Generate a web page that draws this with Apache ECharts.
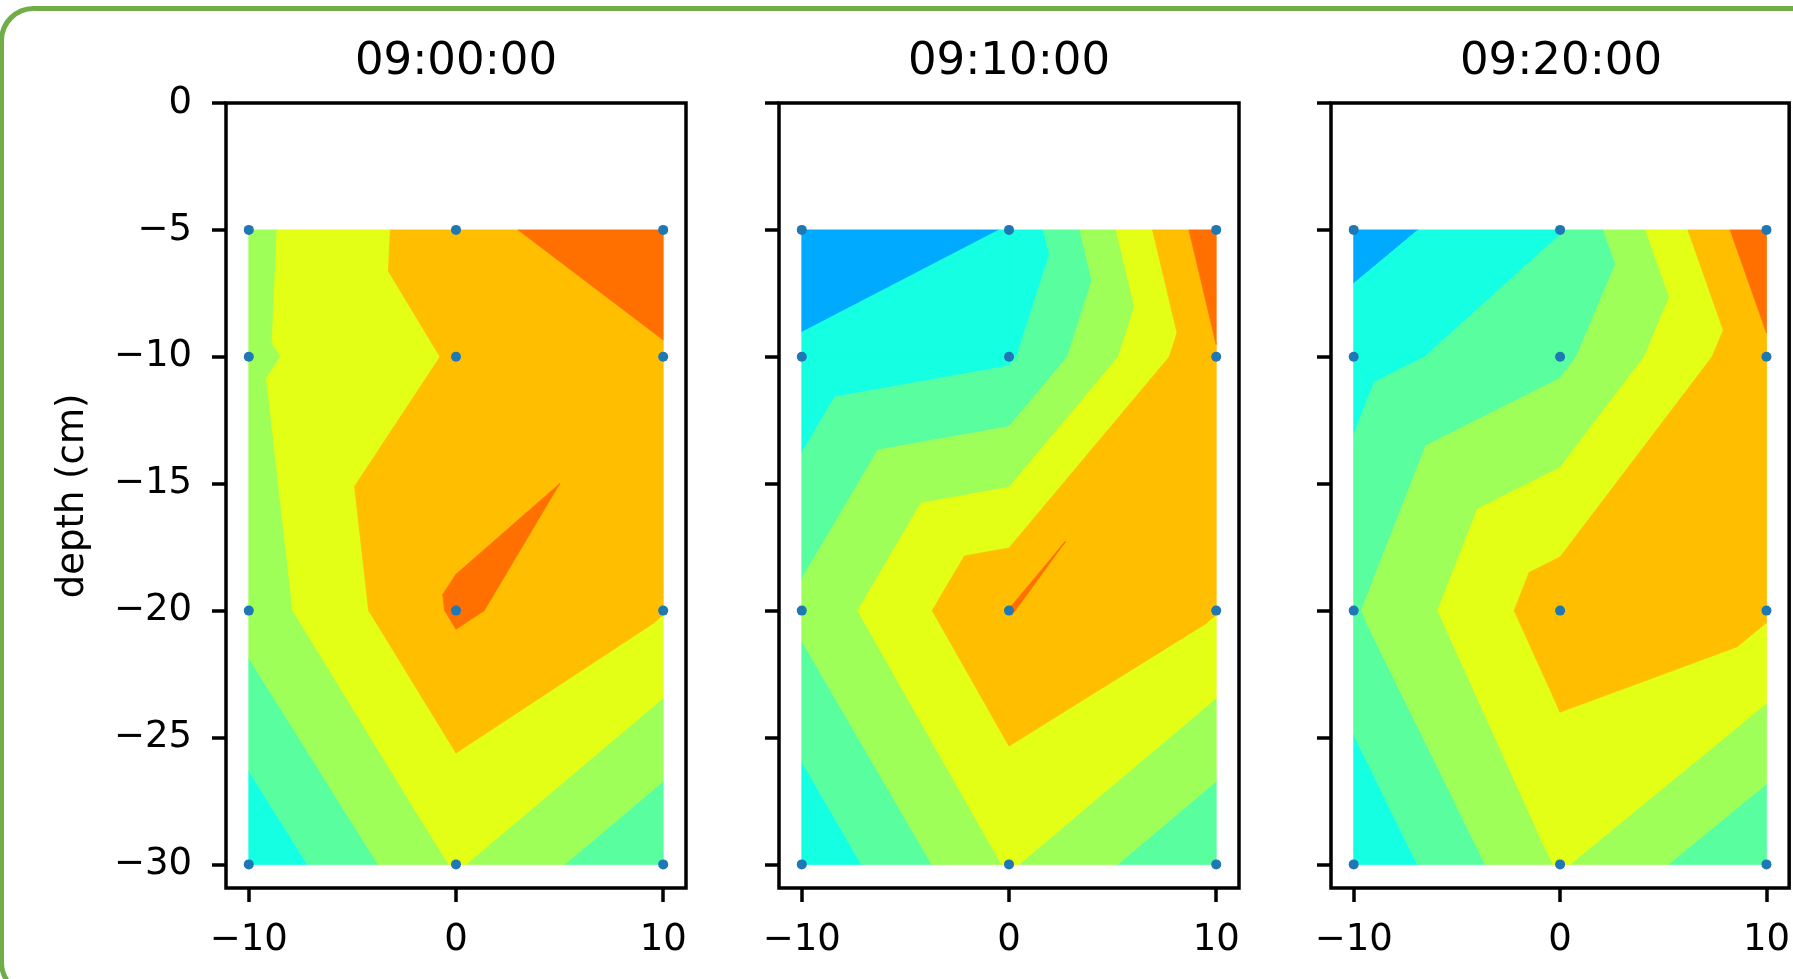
<!DOCTYPE html>
<html>
<head>
<meta charset="utf-8">
<title>depth profiles</title>
<script src="https://cdn.jsdelivr.net/npm/echarts@6/dist/echarts.min.js"></script>
<style>
html, body { margin: 0; padding: 0; background: #fff; }
#main { width: 1793px; height: 979px; }
</style>
</head>
<body>
<div id="main"></div>
<script>
// sensor positions
const xPos = [-10, 0, 10];
const depths = [-5, -10, -20, -30];
const times = ['09:00:00', '09:10:00', '09:20:00'];

// readings per depth row (left, centre, right), in contour-level units
const values0900 = [
    [6.75, 8.58, 9.98],
    [6.80, 8.10, 8.85],
    [6.42, 9.15, 8.05],
    [4.17, 7.10, 5.00]
];
const values0910 = [
    [3.00, 4.05, 9.75],
    [4.24, 4.85, 8.92],
    [6.25, 9.03, 8.05],
    [4.15, 7.10, 5.00]
];
const values0920 = [
    [3.56, 4.97, 9.86],
    [4.60, 5.76, 8.80],
    [5.90, 8.60, 8.15],
    [4.06, 7.10, 5.00]
];
const panelValues = [values0900, values0910, values0920];

// triangulation of each cell: 'main' joins top-left/bottom-right, 'anti' the other pair
const cellDiagonal = [
    ['anti', 'main'],
    ['main', 'anti'],
    ['main', 'anti']
];

// contour levels (band k = levels[k] .. levels[k+1]) and jet colours
const levels = [0, 1, 2, 3, 4, 5, 6, 7, 8, 9, 10, 11, 12];
const levelColors = ['#0000b0', '#0000ff', '#0055ff', '#00aaff', '#15ffe2', '#59ff9e',
    '#9eff59', '#e2ff15', '#ffbe00', '#ff7000', '#ff2100', '#b00000'];

const xTicks = [-10, 0, 10];
const yTicks = [0, -5, -10, -15, -20, -25, -30];

const gridLeft = [226, 779, 1331];
const font = '"DejaVu Sans"';

function fmt(v) {
    return v < 0 ? '\u2212' + (-v) : String(v);
}

// keep the part of a polygon on one side of a level (above=true: value >= level)
function clip(poly, level, above) {
    const out = [];
    for (let i = 0; i < poly.length; i++) {
        const a = poly[i], b = poly[(i + 1) % poly.length];
        const ina = above ? a[2] >= level : a[2] < level;
        const inb = above ? b[2] >= level : b[2] < level;
        if (ina) out.push(a);
        if (ina !== inb) {
            const t = (level - a[2]) / (b[2] - a[2]);
            out.push([a[0] + t * (b[0] - a[0]), a[1] + t * (b[1] - a[1]), level]);
        }
    }
    return out;
}

// filled contours over the triangulated sensor grid (linear in each triangle)
function contourItem(vals) {
    return function (params, api) {
        if (params.dataIndex !== 0) return null;
        const tris = [];
        for (let r = 0; r < depths.length - 1; r++) {
            for (let c = 0; c < xPos.length - 1; c++) {
                const a = [xPos[c], depths[r], vals[r][c]];
                const b = [xPos[c + 1], depths[r], vals[r][c + 1]];
                const cc = [xPos[c], depths[r + 1], vals[r + 1][c]];
                const d = [xPos[c + 1], depths[r + 1], vals[r + 1][c + 1]];
                if (cellDiagonal[r][c] === 'main') tris.push([a, b, d], [a, d, cc]);
                else tris.push([a, b, cc], [b, d, cc]);
            }
        }
        const children = [];
        for (let k = 0; k < levelColors.length; k++) {
            let path = '';
            for (const tri of tris) {
                let poly = clip(tri, levels[k], true);
                if (poly.length < 3) continue;
                poly = clip(poly, levels[k + 1], false);
                if (poly.length < 3) continue;
                poly.forEach((p, idx) => {
                    const q = api.coord([p[0], p[1]]);
                    path += (idx ? 'L' : 'M') + q[0].toFixed(2) + ' ' + q[1].toFixed(2);
                });
                path += 'Z';
            }
            if (path) {
                children.push({
                    type: 'path',
                    shape: { pathData: path },
                    style: { fill: levelColors[k], stroke: levelColors[k], lineWidth: 0.8, lineJoin: 'round' }
                });
            }
        }
        return { type: 'group', children: children };
    };
}

function points(vals) {
    const pts = [];
    depths.forEach((y, r) => xPos.forEach((x, c) => pts.push([x, y, vals[r][c]])));
    return pts;
}

const myChart = echarts.init(document.getElementById('main'));

const series = [];
panelValues.forEach((vals, i) => {
    series.push({
        type: 'custom',
        xAxisIndex: i,
        yAxisIndex: i,
        data: points(vals),
        renderItem: contourItem(vals),
        silent: true,
        z: 1
    });
    series.push({
        type: 'scatter',
        xAxisIndex: i,
        yAxisIndex: i,
        data: points(vals).map(p => [p[0], p[1]]),
        symbolSize: 10,
        itemStyle: { color: '#1f77b4', opacity: 1 },
        silent: true,
        z: 3
    });
});

const option = {
    backgroundColor: '#fff',
    animation: false,
    grid: gridLeft.map(l => ({
        left: l, top: 103, width: 460, height: 785,
        show: true, borderColor: '#000', borderWidth: 3.5
    })),
    xAxis: gridLeft.map((_, i) => ({
        gridIndex: i,
        type: 'value',
        min: -11.1,
        max: 11.1,
        axisLine: { show: false, onZero: false },
        axisTick: { show: true, length: 14, customValues: xTicks, lineStyle: { color: '#000', width: 3.5 } },
        axisLabel: { customValues: xTicks, margin: 34, formatter: fmt, color: '#000', fontSize: 37, fontFamily: font },
        splitLine: { show: false }
    })),
    yAxis: gridLeft.map((_, i) => ({
        gridIndex: i,
        type: 'value',
        min: -30.93,
        max: 0,
        axisLine: { show: false, onZero: false },
        axisTick: { show: true, length: 14, customValues: yTicks, lineStyle: { color: '#000', width: 3.5 } },
        axisLabel: {
            show: i === 0, customValues: yTicks, margin: 34, formatter: fmt,
            color: '#000', fontSize: 37, fontFamily: font, padding: [8, 0, 0, 0]
        },
        splitLine: { show: false }
    })),
    graphic: [
        {
            type: 'rect', silent: true, z: -10,
            shape: { x: 1.5, y: 8.5, width: 1900, height: 986, r: 32 },
            style: { fill: 'none', stroke: '#70ad47', lineWidth: 5 }
        },
        ...times.map((t, i) => ({
            type: 'text', x: gridLeft[i] + 230, y: 62, silent: true,
            style: { text: t, font: '45px ' + font, fill: '#000', align: 'center', verticalAlign: 'middle' }
        })),
        {
            type: 'text', x: 73.5, y: 496, rotation: Math.PI / 2, silent: true,
            style: { text: 'depth (cm)', font: '37px ' + font, fill: '#000', align: 'center', verticalAlign: 'middle' }
        }
    ],
    series: series
};
myChart.setOption(option);
</script>
</body>
</html>
